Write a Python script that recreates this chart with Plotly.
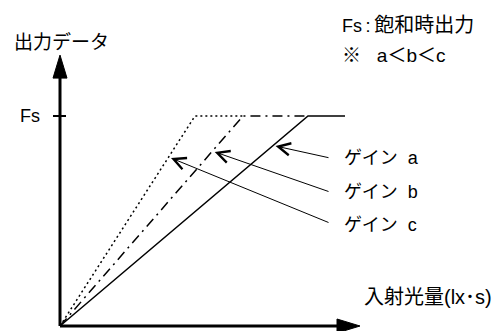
import plotly.graph_objects as go

# data (arbitrary exposure units, output normalised so that Fs = 1)
gain_names = ["a", "b", "c"]
sat_exposure = [2.48, 1.83, 1.35]      # exposure where each gain reaches Fs
line_end = [2.85, 2.48, 1.83]          # where each drawn line stops
fs_level = 1.0
gain_dash = ["solid", "10px,5px,2px,5px", "2px,3px"]
label_texts = ["ゲイン\u00a0\u00a0a", "ゲイン\u00a0\u00a0b", "ゲイン\u00a0\u00a0c"]
pointer_y = [0.857, 0.829, 0.80]       # where the leader arrows touch each line
x_axis_end = 3.0
y_axis_end = 1.29

# the page body has an 8px margin, so the figure is a bit smaller than the window
OFF = 8
W, H = 500 - OFF, 331 - OFF
FONT = "Liberation Sans, Arial, Noto Sans CJK JP, sans-serif"


def px(x):
    return (x - OFF) / W


def py(y):
    return 1 - (y - OFF) / H


fig = go.Figure()

# response lines
for g, sat, end, dash in zip(gain_names, sat_exposure, line_end, gain_dash):
    fig.add_trace(go.Scatter(
        x=[0, sat, end], y=[0, fs_level, fs_level],
        mode="lines", name="ゲイン " + g,
        line=dict(color="black", width=1.5, dash=dash),
        hoverinfo="skip", showlegend=False,
    ))

shapes = []
# axes
shapes.append(dict(type="line", x0=0, y0=0, x1=x_axis_end - 0.2, y1=0,
                   line=dict(color="black", width=3)))
shapes.append(dict(type="line", x0=0, y0=0, x1=0, y1=y_axis_end - 0.1,
                   line=dict(color="black", width=3)))
# arrow heads (pixel paths anchored at the axis ends)
shapes.append(dict(type="path", xsizemode="pixel", ysizemode="pixel",
                   xanchor=x_axis_end, yanchor=0,
                   path="M0,0 L-23,7 L-23,-7 Z",
                   fillcolor="black", line=dict(color="black", width=1)))
shapes.append(dict(type="path", xsizemode="pixel", ysizemode="pixel",
                   xanchor=0, yanchor=y_axis_end,
                   path="M0,0 L-7,-23 L7,-23 Z",
                   fillcolor="black", line=dict(color="black", width=1)))
# Fs tick
shapes.append(dict(type="line", xsizemode="pixel", xanchor=0,
                   x0=-7, x1=6, y0=fs_level, y1=fs_level,
                   line=dict(color="black", width=2)))

annotations = []
# leader arrows from labels to lines
tail_x = 2.70
tail_y = [0.80, 0.638, 0.490]
for g, sat, ty, yy in zip(gain_names, sat_exposure, tail_y, pointer_y):
    annotations.append(dict(
        x=yy * sat + 0.03, y=yy, ax=tail_x, ay=ty, axref="x", ayref="y",
        xref="x", yref="y", text="", showarrow=True,
        arrowhead=5, arrowsize=2.4, arrowwidth=1, arrowcolor="black",
    ))

label_y = [158, 192, 225]
for t, yy in zip(label_texts, label_y):
    annotations.append(dict(x=px(342), y=py(yy), xref="paper", yref="paper",
                            text=t, showarrow=False, xanchor="left",
                            yanchor="middle", font=dict(size=18)))

texts = [
    dict(x=px(12), y=py(42), text="出力データ", xanchor="left", font=dict(size=19)),
    dict(x=px(42), y=py(116), text="Fs", xanchor="right", font=dict(size=18)),
    dict(x=px(340), y=py(25),
         text='<span style="font-size:18px">Fs\u2009:\u2009</span>飽和時出力',
         xanchor="left", font=dict(size=20)),
    dict(x=px(340), y=py(55), text="※\u00a0\u00a0\u00a0a＜b＜c",
         xanchor="left", font=dict(size=19)),
    dict(x=px(362), y=py(297), text="入射光量(lx･s)", xanchor="left",
         font=dict(size=20)),
]
for a in texts:
    a.update(xref="paper", yref="paper", showarrow=False, yanchor="middle")
annotations += texts

fig.update_layout(
    width=W, height=H,
    margin=dict(l=0, r=0, t=0, b=0),
    paper_bgcolor="white", plot_bgcolor="white",
    font=dict(family=FONT, size=16, color="black"),
    xaxis=dict(range=[-0.52, 4.40], visible=False, fixedrange=True),
    yaxis=dict(range=[-5 / 210, 318 / 210], visible=False, fixedrange=True),
    shapes=shapes, annotations=annotations,
)

fig.write_html("out.html")
